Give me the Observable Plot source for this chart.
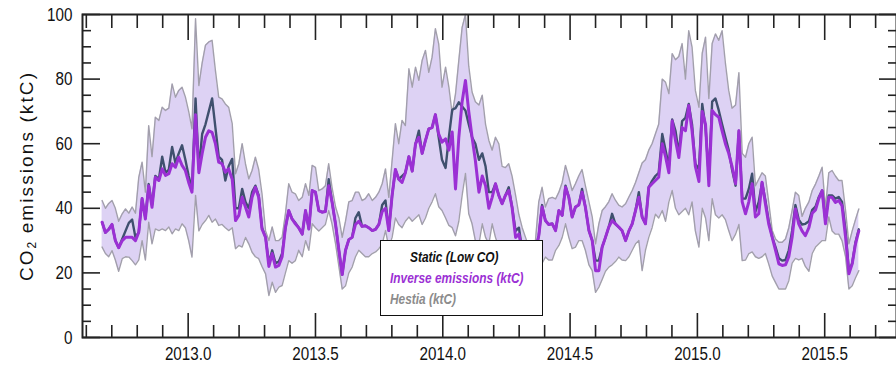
<!DOCTYPE html>
<html><head><meta charset="utf-8">
<script src="https://cdn.jsdelivr.net/npm/d3@7"></script>
<script src="https://cdn.jsdelivr.net/npm/@observablehq/plot@0.6"></script>
<style>
body{margin:0;background:#fff;}
#wrap{position:relative;width:896px;height:366px;overflow:hidden;}
#ytitle{position:absolute;left:-93px;top:164px;width:240px;height:24px;line-height:24px;text-align:center;transform:rotate(-90deg);font-family:'Liberation Sans',Arial,sans-serif;font-size:19px;letter-spacing:2.1px;color:#111;white-space:nowrap;}
#ytitle sub{font-size:12px;vertical-align:-3px;line-height:0;letter-spacing:1px;}
#legend{position:absolute;left:380px;top:240px;width:163px;height:76px;box-sizing:border-box;border:1.5px solid #111;background:#fff;padding:6px 0 0 9px;font-family:'Liberation Sans',Arial,sans-serif;font-weight:bold;font-style:italic;font-size:14.5px;line-height:21px;white-space:nowrap;}
#legend div{height:21px;transform:scaleX(0.82);transform-origin:0 50%;}
</style></head>
<body><div id="wrap"><div id="chart"></div>
<div id="ytitle">CO<sub>2</sub> emissions (ktC)</div>
<div id="legend">
<div style="color:#111;margin-left:20px">Static (Low CO)</div>
<div style="color:#9b30d4">Inverse emissions (ktC)</div>
<div style="color:#8c8c8c">Hestia (ktC)</div>
</div></div>
<script>
const dates = [
2012.662,2012.675,2012.688,2012.701,2012.714,2012.727,2012.741,2012.754,2012.767,2012.780,
2012.793,2012.806,2012.819,2012.832,2012.845,2012.858,2012.871,2012.885,2012.898,2012.911,
2012.924,2012.937,2012.950,2012.963,2012.976,2012.989,2013.002,2013.015,2013.029,2013.042,
2013.055,2013.068,2013.081,2013.094,2013.107,2013.120,2013.133,2013.146,2013.159,2013.173,
2013.186,2013.199,2013.212,2013.225,2013.238,2013.251,2013.264,2013.277,2013.290,2013.304,
2013.317,2013.330,2013.343,2013.356,2013.369,2013.382,2013.395,2013.408,2013.421,
2013.434,2013.448,2013.461,2013.474,2013.487,2013.500,2013.513,2013.526,2013.539,2013.552,
2013.565,2013.579,2013.592,2013.605,2013.618,2013.631,2013.644,2013.657,2013.670,2013.683,
2013.696,2013.709,2013.723,2013.736,2013.749,2013.762,2013.775,2013.788,2013.801,2013.814,
2013.827,2013.840,2013.853,2013.867,2013.880,2013.893,2013.906,2013.919,2013.932,2013.945,
2013.958,2013.971,2013.984,2013.997,2014.011,2014.024,2014.037,2014.050,2014.063,2014.076,
2014.089,2014.102,2014.115,2014.128,2014.142,2014.155,2014.168,2014.181,
2014.194,2014.207,2014.220,2014.233,2014.246,2014.259,2014.272,2014.286,2014.299,2014.312,
2014.325,2014.338,2014.351,2014.364,2014.377,2014.390,2014.403,2014.416,2014.430,2014.443,
2014.456,2014.469,2014.482,2014.495,2014.508,2014.521,2014.534,2014.547,2014.560,2014.574,
2014.587,2014.600,2014.613,2014.626,2014.639,2014.652,2014.665,2014.678,2014.691,2014.704,
2014.718,2014.731,2014.744,2014.757,2014.770,2014.783,2014.796,2014.809,2014.822,2014.835,
2014.848,2014.862,2014.875,2014.888,2014.901,2014.914,2014.927,2014.940,2014.953,
2014.966,2014.979,2014.992,2015.006,2015.019,2015.032,2015.045,2015.058,2015.071,2015.084,
2015.097,2015.110,2015.123,2015.136,2015.150,2015.163,2015.176,2015.189,2015.202,2015.215,
2015.228,2015.241,2015.254,2015.267,2015.280,2015.294,2015.307,2015.320,2015.333,2015.346,
2015.359,2015.372,2015.385,2015.398,2015.411,2015.424,2015.438,2015.451,2015.464,2015.477,
2015.490,2015.503,2015.516,2015.529,2015.542,2015.555,2015.568,2015.582,2015.595,2015.608,
2015.621,2015.634];

const inverse = [
35.7,32.5,33.5,35.0,30.0,27.8,30.0,31.0,31.0,31.0,30.0,32.6,43.0,36.7,47.0,40.3,49.6,48.6,52.2,50.2,50.7,53.8,52.7,55.8,53.3,51.7,48.0,45.0,69.0,51.0,57.0,62.0,64.0,63.5,60.0,54.3,53.8,51.2,52.2,49.0,36.2,37.8,43.4,40.4,37.3,43.4,46.5,43.4,33.6,31.0,22.0,26.0,21.8,22.3,25.0,34.0,39.3,36.7,35.2,
34,32,39.3,33.6,45.5,45,39.3,38.8,39,47,42,35,27,19.5,27,30.3,31,35,36,34.4,34.6,34,33.1,33.5,35,39,40,33.1,44,52,49,48,51,56,51.5,60,62,57,61,64.6,65,69,63,60.5,61.5,58,63.6,46,62,73,79.6,70,62,54.8,45,50,47,40,
43.4,47.6,44,41.4,44,45.5,40.4,31,32,27,24,22,24,27,31.5,40.4,36.2,35,35.2,33.1,39.3,37.8,46.5,43.4,37.3,40.4,41,45,40.4,33.1,30,20.7,20.7,28,31,34.2,36.2,35.2,34.2,33.1,30,33,35.2,39.3,43.4,37.3,35.2,46.5,47.6,48.6,49.6,60,56,51,67,61,55.7,65,64,
71.8,64,53,48.3,70,66,47,70.3,69,68.2,64,60,57,53,47.6,64,42,38.3,42,47.6,37.3,38.3,48.1,41.4,35.2,31,27,22.8,22.3,22.5,25,31,39.8,35.2,33,31.5,34,38.5,39.5,43,45.5,35.2,43.4,43.4,41.8,42.4,40.8,31,19.7,22.8,29,33];

const hestia = [
35.7,32.5,33.5,35.0,30.0,27.8,30.5,33,35.5,36.5,31,32.6,43.0,37,47.5,41,50,49,56,51,52,59,54,57,59.5,55,50,46,74,52,63,66,70,74,65,56,55,48.6,53,55.3,40,40,46,42,40,45,47,44,34,31,23,27,23,23.5,26,34,39.3,36.7,35.5,
34,32,39.3,33.6,45.5,45,39.3,38.8,39,49,42,35,27,19.5,27,30.3,31,37,38.8,34.4,34.6,34,33.1,33.5,35,41,42.4,33.1,44,52,49,50,51,56,51.5,60,64,57,61,64.6,65,69,62,55,52.5,62,70.5,71,72.8,71.5,70.3,66,62,60,55,57,53,45,
45,47.6,44,41.4,44,46.5,40.4,33,34,27,24,22,24,27,31.5,41,36.2,35,35.2,33.1,39.3,37.8,47,43.4,37.3,40.4,41,46,40.4,33.1,30,23.8,23.8,28,31,34.2,38.3,35.2,34.2,33.1,30,33,35.2,39.3,45,37.3,35.2,46.5,48.5,50,51,63,58,53,67.5,64,57,67,68,
72.3,66,53.8,52,72.3,65,49.5,73,74,70.3,66,62,58,52,47,64,43,43,46,50.7,39,42,48,42.5,36,31,28,24.5,23.8,24,27,33,41,36.5,35,35.2,36,39.5,40.5,43.5,45.5,36,44,44,43,43.5,42,33,20.5,23,29.5,33.5];

const upper = [
42.4,40,41.5,42.4,40,36,38.3,39.8,38.5,40.4,38.5,49.6,54.3,45,65.6,56,68.2,67.2,71.3,70.3,71,78.5,74.4,76.5,77.5,74.5,70,64.6,98.7,78,85,90.5,91.5,92,82.7,74.4,73.9,72.3,71.3,66.2,50.7,53.8,60,53.8,49.1,51.7,55.8,52,44.5,33,30,34.2,30,30,31,38.3,47.6,45,44.5,
42.4,43.4,47.6,44,53.3,52.7,45.5,46,47,53.8,46.5,40.4,37,31,36,42,42.4,45,45,42.4,43,44.5,42.4,43.4,45,47.6,52.2,43.4,54.8,66.2,60,67.2,65.6,83.2,77.5,83.7,79.6,85.8,88.9,82.1,86.8,95.6,90.9,77.5,83.7,77.5,69.2,75.4,85.8,96,100,84,76,73,72,75,66,61,
58,62,60,53,52.6,53.8,50,44,38,34,31,28,27,30,42,46.5,40.4,43,43.4,42.9,45,48,53.3,49.6,45.5,47.6,50,52,47,42,37.3,29,35.2,39.3,40.5,42,44.5,42.5,41,40.4,41.4,43.5,45.5,48,51,54,55,58,60,63,66,80,79,75.5,87.9,86,87,91,80,
95,89.9,76.5,71.3,88,93,74,91,94,92,95,85,76.5,71,72,82,57,55.8,60,62,47,49,51,50,42,33.1,30.5,29.5,29.5,30.5,34,39.3,45,44,37.5,40,42,45.5,47.5,50,52.7,40,51,51.7,50,48.6,48.6,39.3,29,33,36.5,39.8];

const lower = [
28,26,25,26.9,24,20.5,24.4,25,24.9,23.8,22.5,24,30,24,35.7,29,33.6,33.1,33.6,33.1,34.2,32.1,33.6,33.1,35.2,34,30,24.9,44,33,35,36.2,37.8,35.7,36.7,34.7,35,34,33.1,34,27.5,28.5,28,31,29,26.4,25,24.4,22,19.7,13,17.1,14,15.6,16.1,20,23.8,23,23.8,
27,25,30,27,35.2,34,33,34,35,39.3,35.2,29,22,15,16,20,21.8,25,27,26,25,25,26,26.5,27.5,29,33.1,28,31,37,35,34,36,37.3,36,37,38,35,37,40,42,44.5,40.5,39.3,37,34.7,34,31.5,36,44,50.8,38.3,35.2,30,29,35.2,31,29,
35.2,31,28,27.5,29,29,27,24.9,22,20,19,18,19,20,21.8,23,24.9,24,24,27,28.5,31,35.2,31,27.5,28,30,30,27,22.5,20.7,14,15.6,18,20.5,21.8,22.5,23.5,24.9,24,23.8,25,27,29,30,20.7,27,31,34,38.2,37,39.3,36,42,45.5,40,38,39,40,
38,42,33,28,40,37,30,43,38,37,38,36.5,33.1,30,32,35,23.8,24,26,26.5,25,24.5,25,26,22.8,19,17,15,15,15,17.6,23,24.5,24,24.5,22,20.5,26,28,29,30,30,37.3,33,32,32,30,25,15,16,18.5,20.7];

const xMajorTicks = [2013.0, 2013.5, 2014.0, 2014.5, 2015.0, 2015.5];
const xMinorTicks = [2012.6,2012.7,2012.8,2012.9,2013.1,2013.2,2013.3,2013.4,2013.6,2013.7,2013.8,2013.9,2014.1,2014.2,2014.3,2014.4,2014.6,2014.7,2014.8,2014.9,2015.1,2015.2,2015.3,2015.4,2015.6,2015.7];
const yMajorTicks = [0, 20, 40, 60, 80, 100];
const yMinorTicks = [5,10,15,25,30,35,45,50,55,65,70,75,85,90,95];

const data = dates.map((t, i) => ({t, inv: inverse[i], hes: hestia[i], hi: upper[i], lo: lower[i]}));

const FONT = "'Liberation Sans',Arial,sans-serif";
const TICK = "#222";
const noText = () => "";

const chart = Plot.plot({
  width: 896, height: 366,
  marginLeft: 82, marginRight: 0, marginTop: 14, marginBottom: 29,
  x: {domain: [2012.585, 2015.782]},
  y: {domain: [0, 100]},
  style: {fontFamily: FONT, background: "white", color: "#111", overflow: "visible"},
  marks: [
    Plot.areaY(data, {x: "t", y1: "lo", y2: "hi", fill: "#ddd2f4"}),
    Plot.lineY(data, {x: "t", y: "hi", stroke: "#a29fac", strokeWidth: 1.4}),
    Plot.lineY(data, {x: "t", y: "lo", stroke: "#a29fac", strokeWidth: 1.4}),
    Plot.lineY(data, {x: "t", y: "hes", stroke: "#3f506e", strokeWidth: 2.4, strokeLinejoin: "round"}),
    Plot.lineY(data, {x: "t", y: "inv", stroke: "#9b30d4", strokeWidth: 3, strokeLinejoin: "round"}),
    Plot.frame({stroke: "#222", strokeWidth: 2}),
    Plot.axisY(yMajorTicks, {anchor: "left", tickSize: 18, dx: 18, tickFormat: noText, label: null, stroke: TICK, strokeWidth: 1.6}),
    Plot.axisY(yMinorTicks, {anchor: "left", tickSize: 9, dx: 9, tickFormat: noText, label: null, stroke: TICK, strokeWidth: 1.6}),
    Plot.axisY(yMajorTicks, {anchor: "right", tickSize: 18, dx: -18, tickFormat: noText, label: null, stroke: TICK, strokeWidth: 1.6}),
    Plot.axisY(yMinorTicks, {anchor: "right", tickSize: 9, dx: -9, tickFormat: noText, label: null, stroke: TICK, strokeWidth: 1.6}),
    Plot.axisX(xMajorTicks, {anchor: "bottom", tickSize: 24, dy: -24, tickFormat: noText, label: null, stroke: TICK, strokeWidth: 1.6}),
    Plot.axisX(xMinorTicks, {anchor: "bottom", tickSize: 12, dy: -12, tickFormat: noText, label: null, stroke: TICK, strokeWidth: 1.6}),
    Plot.axisX(xMajorTicks, {anchor: "top", tickSize: 25, dy: 25, tickFormat: noText, label: null, stroke: TICK, strokeWidth: 1.6}),
    Plot.axisX(xMinorTicks, {anchor: "top", tickSize: 13, dy: 13, tickFormat: noText, label: null, stroke: TICK, strokeWidth: 1.6}),
    Plot.axisY(yMajorTicks, {anchor: "left", tickSize: 0, tickPadding: 10, fontSize: 19, label: null, fill: "#111"}),
    Plot.axisX(xMajorTicks, {anchor: "bottom", tickSize: 0, tickPadding: 9, fontSize: 19, label: null, fill: "#111", tickFormat: d3.format(".1f")})
  ]
});
document.getElementById("chart").appendChild(chart);
// condense tick label glyphs (reference uses a narrow face)
chart.querySelectorAll("text").forEach(t => {
  const w = t.getComputedTextLength();
  if (w > 0) {
    t.setAttribute("textLength", (w * 0.8).toFixed(1));
    t.setAttribute("lengthAdjust", "spacingAndGlyphs");
  }
});
</script>
</body></html>
